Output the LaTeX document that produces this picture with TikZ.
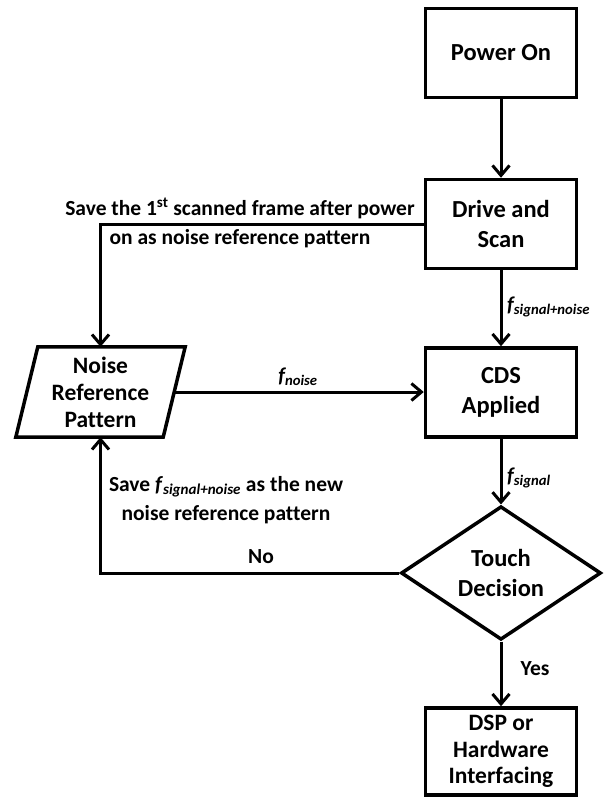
\documentclass[tikz,border=0pt]{standalone}
\usepackage{fontspec}
\setmainfont[Ligatures=CommonOff]{Carlito}
\usetikzlibrary{arrows.meta,shapes.geometric}
\begin{document}
\begin{tikzpicture}[x=1pt,y=-1pt,
    font=\bfseries\fontsize{24.5}{30}\selectfont,
    box/.style={draw,line width=3.5pt,minimum width=151pt,minimum height=89pt,align=center,inner sep=0pt},
    flowarrow/.style={line width=3pt,-{Straight Barb[length=10pt,width=17pt]}},
    lbl/.style={font=\bfseries\fontsize{21.5}{29}\selectfont,align=center,inner sep=0pt},
    sig/.style={font=\bfseries\itshape\fontsize{21}{24}\selectfont,inner sep=0pt}]
\useasboundingbox (0,0) rectangle (609,798);
\node[box] (power) at (501,53) {Power On};
\node[box] (drive) at (501,224) {Drive and\\Scan};
\node[box] (cds) at (501,392.5) {CDS\\Applied};
\node[draw,diamond,line width=3.5pt,minimum width=200pt,minimum height=114pt,inner sep=0pt,align=center] (decision) at (501,573) {Touch\\Decision};
\node[box,minimum height=87pt,font=\bfseries\fontsize{23.5}{26.5}\selectfont] (dsp) at (501,751.5) {DSP or\\Hardware\\Interfacing};
\node[minimum width=147pt,minimum height=90pt,inner sep=0pt,align=center,font=\bfseries\fontsize{23.5}{27}\selectfont] (noise) at (100.5,392) {Noise\\Reference\\Pattern};
\draw[line width=3.5pt,line join=miter]
    ([xshift=11pt]noise.north west) -- ([xshift=11pt]noise.north east)
    -- ([xshift=-11pt]noise.south east) -- ([xshift=-11pt]noise.south west) -- cycle;
\draw[flowarrow] (power) -- (drive);
\draw[flowarrow] (drive) -- (cds);
\draw[flowarrow] (cds) -- (decision);
\draw[flowarrow] (decision) -- (dsp);
\draw[flowarrow] (noise.east) -- (noise.east -| cds.west);
\draw[flowarrow] (drive.west) -| (noise.north);
\draw[flowarrow] (decision.west) -| (noise.south);
\node[lbl] (firstsave) at (240,223) {Save the 1\textsuperscript{st} scanned frame after power\\on as noise reference pattern};
\node[lbl] (newsave) at (226,500) {Save \textit{f}\textsubscript{\itshape signal+noise} as the new\\noise reference pattern};
\node[lbl] (no) at (261,557) {No};
\node[lbl] (yes) at (535,669) {Yes};
\node[sig,anchor=west] (fsn) at (507,307) {f\textsubscript{signal+noise}};
\node[sig,anchor=west] (fs) at (507,478) {f\textsubscript{signal}};
\node[sig] (fn) at (298,377) {f\textsubscript{noise}};
\end{tikzpicture}
\end{document}
